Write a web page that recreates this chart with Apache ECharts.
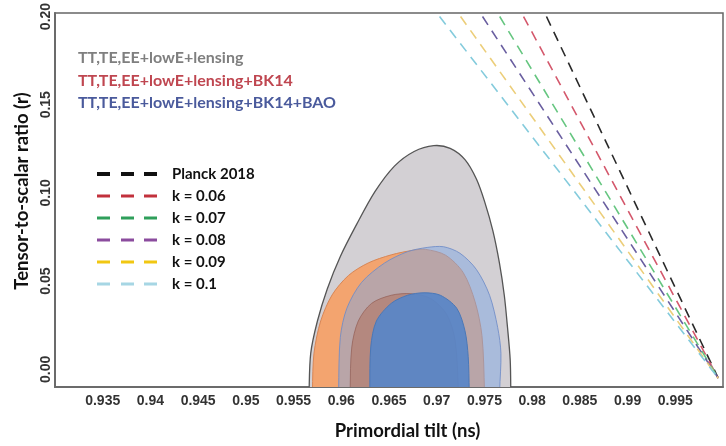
<!DOCTYPE html>
<html>
<head>
<meta charset="utf-8">
<script src="https://cdn.jsdelivr.net/npm/echarts@6/dist/echarts.min.js"></script>
<style>
  html, body { margin: 0; padding: 0; background: #fff; }
  #chart { width: 726px; height: 446px; }
</style>
</head>
<body>
<div id="chart"></div>
<script>
// Tick labels shown on the axes
const xTickLabels = [0.935, 0.94, 0.945, 0.95, 0.955, 0.96, 0.965, 0.97, 0.975, 0.98, 0.985, 0.99, 0.995];
const yTickLabels = [0, 0.05, 0.1, 0.15, 0.2];

// Data combinations (contour legend)
const datasetNames = [
  'TT,TE,EE+lowE+lensing',
  'TT,TE,EE+lowE+lensing+BK14',
  'TT,TE,EE+lowE+lensing+BK14+BAO'
];

// Confidence contours as [ns, r] outlines; the lowest points sit below r = 0
// and are cut off by the frame
const base95 = [[0.95663, -0.03], [0.95663, -0.012], [0.95680, 0.0092], [0.95750, 0.0274], [0.95853, 0.0456],
  [0.95990, 0.0640], [0.96162, 0.0823], [0.96351, 0.1006], [0.96557, 0.1152], [0.96763, 0.1235],
  [0.96969, 0.1268], [0.97141, 0.1253], [0.97296, 0.1189], [0.97416, 0.1079], [0.97502, 0.0951],
  [0.97588, 0.0786], [0.97657, 0.0603], [0.97708, 0.0420], [0.97742, 0.0237], [0.97770, 0.0054],
  [0.97776, -0.012], [0.97776, -0.03]];
const bk14_95 = [[0.95698, -0.03], [0.95698, -0.012], [0.95714, 0.0092], [0.95784, 0.0274], [0.95904, 0.0422],
  [0.96075, 0.0532], [0.96282, 0.0603], [0.96523, 0.0649], [0.96763, 0.0676], [0.96884, 0.0680],
  [0.97093, 0.0647], [0.97278, 0.0548], [0.97402, 0.0383], [0.97474, 0.0191], [0.97500, -0.012],
  [0.97500, -0.03]];
const bao95 = [[0.95972, -0.03], [0.95972, -0.012], [0.95990, 0.0182], [0.96059, 0.0347], [0.96213, 0.0493],
  [0.96454, 0.0603], [0.96694, 0.0667], [0.96900, 0.0691], [0.97072, 0.0695], [0.97244, 0.0658],
  [0.97416, 0.0566], [0.97554, 0.0420], [0.97639, 0.0237], [0.97673, 0.0091], [0.97660, -0.012],
  [0.97660, -0.03]];
const bk14_68 = [[0.96093, -0.03], [0.96093, -0.012], [0.96110, 0.0127], [0.96178, 0.0274], [0.96317, 0.0374],
  [0.96523, 0.0420], [0.96729, 0.0429], [0.96935, 0.0402], [0.97106, 0.0310], [0.97193, 0.0164],
  [0.97227, -0.012], [0.97227, -0.03]];
const bao68 = [[0.96299, -0.03], [0.96299, -0.012], [0.96309, 0.0127], [0.96368, 0.0274], [0.96523, 0.0374],
  [0.96694, 0.0420], [0.96866, 0.0434], [0.97038, 0.0420], [0.97209, 0.0347], [0.97296, 0.0219],
  [0.97330, 0.0072], [0.97340, -0.012], [0.97340, -0.03]];

// Model lines (dashed), each from the top of the frame down to the lower right
const lineNames = ['Planck 2018', 'k = 0.06', 'k = 0.07', 'k = 0.08', 'k = 0.09', 'k = 0.1'];
const planck2018 = [[0.9815, 0.20], [0.9995, -0.005]];
const k006 = [[0.9791, 0.20], [0.9995, -0.005]];
const k007 = [[0.9766, 0.20], [0.9995, -0.005]];
const k008 = [[0.9748, 0.20], [0.9995, -0.005]];
const k009 = [[0.9725, 0.20], [0.9995, -0.005]];
const k010 = [[0.9703, 0.20], [0.9995, -0.005]];
const lineData = [planck2018, k006, k007, k008, k009, k010];

const lineColors = ['#2a2a2a', '#d4586c', '#66c680', '#6a5fa0', '#ecce7a', '#84cbdc'];
const legendLineColors = ['#111111', '#c2313c', '#2f9f5b', '#8b4c9e', '#f1c712', '#a6d6e4'];
const datasetTextColors = ['#7f7f7f', '#bf4650', '#4a5a9c'];

const tickFont = 'Liberation Sans, Arial, sans-serif';
const textFont = 'Lato, "Open Sans", sans-serif';

function contour(name, pts, fill, stroke, lineWidth) {
  return {
    type: 'custom',
    name: name,
    data: pts,
    clip: true,
    silent: true,
    itemStyle: { color: fill },
    renderItem: function (params, api) {
      if (params.dataIndex !== 0) return;
      const points = pts.map(function (p) { return api.coord(p); });
      return {
        type: 'polygon',
        shape: { points: points, smooth: 0.3 },
        style: { fill: fill, stroke: stroke, lineWidth: lineWidth }
      };
    }
  };
}

const thickDash = 'path://M0,0h13v4h-13zM24,0h13v4h-13zM47,0h13v4h-13zM70,0v4';
const thinDash = 'path://M0,0.5h13v3h-13zM24,0.5h13v3h-13zM47,0.5h13v3h-13zM70,0v4';

const series = [
  contour(datasetNames[0], base95, '#d3d0d4', '#555555', 1.3),
  contour(datasetNames[1], bk14_95, '#f3a46f', '#d78656', 1),
  contour(datasetNames[2], bao95, 'rgba(128,166,226,0.5)', 'rgba(110,140,200,0.85)', 1),
  contour(datasetNames[1], bk14_68, 'rgba(175,95,72,0.42)', 'rgba(140,85,75,0.6)', 1),
  contour(datasetNames[2], bao68, 'rgba(88,134,200,0.92)', '#4a78b8', 1)
];
lineNames.forEach(function (n, i) {
  series.push({
    type: 'line',
    name: n,
    data: lineData[i],
    symbol: 'none',
    silent: true,
    z: 3,
    itemStyle: { color: lineColors[i] },
    lineStyle: { color: lineColors[i], width: 1.6, type: [10, 7] }
  });
});

const chart = echarts.init(document.getElementById('chart'));
chart.setOption({
  animation: false,
  backgroundColor: '#ffffff',
  grid: { left: 55, top: 12, width: 679, height: 386, show: true, borderColor: '#666', borderWidth: 1.5 },
  xAxis: {
    type: 'value', min: 0.93, max: 1.0, interval: 0.005,
    name: 'Primordial tilt (ns)', nameLocation: 'middle', nameGap: 35,
    nameTextStyle: { fontFamily: textFont, fontWeight: 'bold', fontSize: 18.5, color: '#111', padding: [0, 0, 0, 37] },
    axisLine: { show: true, onZero: false, lineStyle: { color: '#6b6b6b', width: 2 } },
    axisTick: { show: false },
    splitLine: { show: false },
    axisLabel: {
      margin: 7, fontFamily: tickFont, fontSize: 14, fontWeight: 'bold', color: '#333',
      formatter: function (v) {
        const hit = xTickLabels.find(function (t) { return Math.abs(t - v) < 1e-6; });
        return hit === undefined ? '' : String(hit);
      }
    }
  },
  yAxis: {
    type: 'value', min: -0.01, max: 0.202, interval: 0.01,
    name: 'Tensor-to-scalar ratio (r)', nameLocation: 'middle', nameGap: 17,
    nameTextStyle: { fontFamily: textFont, fontWeight: 'bold', fontSize: 18.5, color: '#111', padding: [0, 0, 0, 18] },
    axisLine: { show: true, onZero: false, lineStyle: { color: '#6b6b6b', width: 2 } },
    axisTick: { show: false },
    splitLine: { show: false },
    axisLabel: {
      rotate: 90, margin: 2, fontFamily: tickFont, fontSize: 14, fontWeight: 'bold', color: '#333',
      formatter: function (v) {
        const hit = yTickLabels.find(function (t) { return Math.abs(t - v) < 1e-6; });
        return hit === undefined ? '' : hit.toFixed(2);
      }
    }
  },
  legend: [
    {
      orient: 'vertical', left: 92, top: 160, itemWidth: 70, itemHeight: 4, itemGap: 4,
      selectedMode: false,
      itemStyle: { borderWidth: 0 },
      textStyle: { fontFamily: textFont, fontWeight: 'bold', fontSize: 15, color: '#111', lineHeight: 18 },
      data: lineNames.map(function (n, i) {
        return { name: n, icon: i === 0 ? thickDash : thinDash, itemStyle: { color: legendLineColors[i], borderWidth: 0 } };
      })
    },
    {
      orient: 'vertical', left: 68, top: 43, itemWidth: 0, itemHeight: 0, itemGap: 2.5,
      selectedMode: false,
      itemStyle: { opacity: 0, borderWidth: 0 },
      textStyle: { fontFamily: textFont, fontWeight: 'bold', fontSize: 16, lineHeight: 20 },
      data: datasetNames.map(function (n, i) {
        return { name: n, textStyle: { color: datasetTextColors[i] } };
      })
    }
  ],
  series: series
});
</script>
</body>
</html>
